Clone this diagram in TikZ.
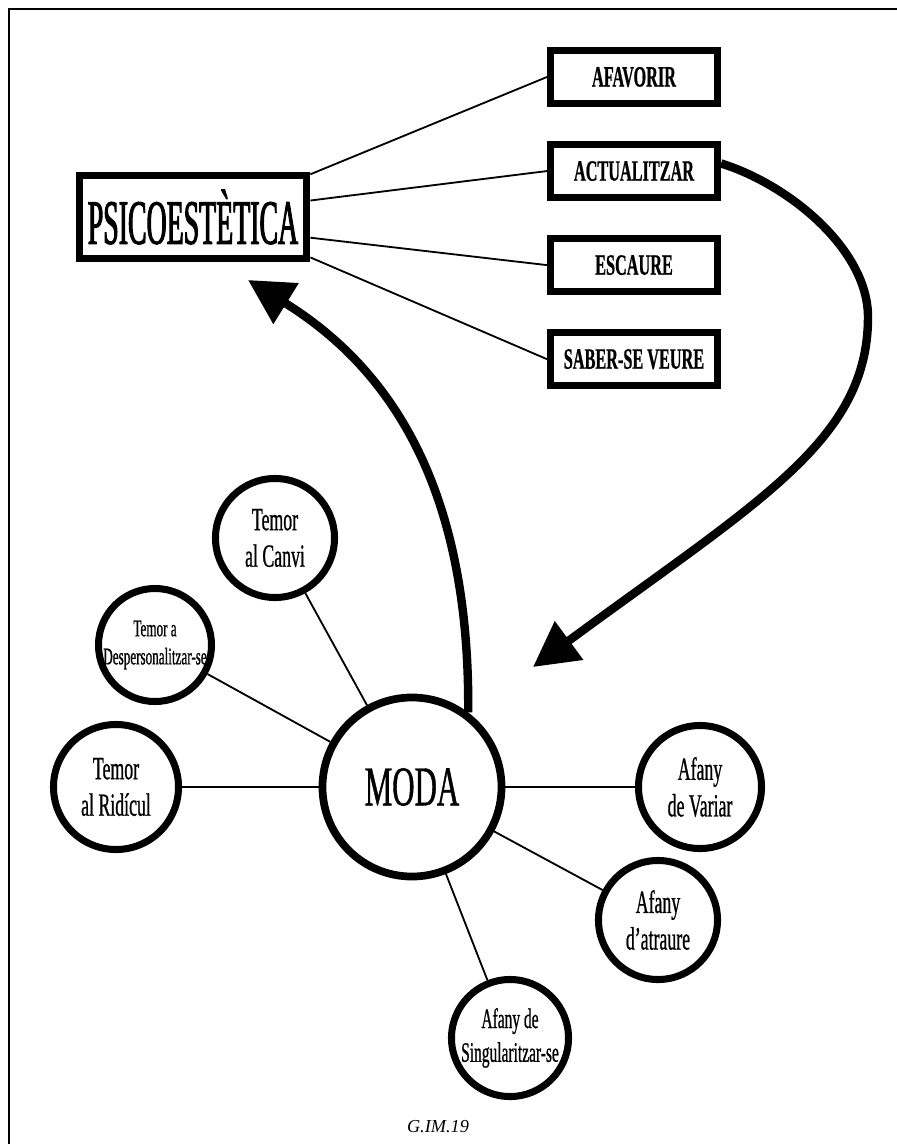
\documentclass[tikz,border=0pt]{standalone}
\usepackage{fontspec}
\setmainfont{Liberation Serif}
\newfontfamily\narrowfont[FakeStretch=0.55, FakeBold=0.7]{Liberation Serif}
\newfontfamily\xnarrowfont[FakeStretch=0.44, FakeBold=1.5]{Liberation Serif}
\usepackage{tikz}
\usetikzlibrary{positioning,arrows.meta}

\begin{document}
\begin{tikzpicture}[
  x=0.025cm, y=-0.025cm,
  box/.style={rectangle, draw, line width=5pt, minimum width=4.175cm, minimum height=1.325cm, inner sep=0pt, font=\narrowfont\bfseries\fontsize{21pt}{24pt}\selectfont},
  bigbox/.style={rectangle, draw, line width=5.5pt, minimum width=5.675cm, minimum height=2.075cm, inner sep=0pt, font=\xnarrowfont\fontsize{45pt}{50pt}\selectfont},
  bubble/.style={circle, draw, line width=5pt, inner sep=-12pt, align=center, font=\narrowfont\fontsize{23pt}{26pt}\selectfont},
  link/.style={line width=1.3pt},
  flow/.style={line width=6pt, -{Triangle[length=1.12cm, width=1.15cm]}},
]
\useasboundingbox (0,0) rectangle (896,1144);

% === Frame ===
\draw[line width=2pt] (9,1150) -- (9,9) -- (900,9);

% === Top: PSICOESTETICA and its four boxes ===
\node[bigbox] (psico) at (193,217) {PSICOESTÈTICA};
\node[box] (afav) at (634,77) {AFAVORIR};
\node[box, below=0.85cm of afav] (actu) {ACTUALITZAR};
\node[box, below=0.85cm of actu] (esca) {ESCAURE};
\node[box, below=0.85cm of esca] (saber) {SABER-SE VEURE};

\draw[link] (psico.20) -- (afav.west);
\draw[link] (psico.8) -- (actu.west);
\draw[link] (psico.-10) -- (esca.west);
\draw[link] (psico.-19) -- (saber.west);

% === Bottom: MODA and the bubbles round it ===
\node[bubble, line width=5.5pt, minimum size=4.475cm, font=\narrowfont\fontsize{40pt}{44pt}\selectfont] (moda) at (412,787) {MODA};
\node[bubble, minimum size=3.125cm] (ridicul) at (116,787) {Temor\\al Ridícul};
\node[bubble, minimum size=2.825cm, font=\narrowfont\fontsize{17pt}{20pt}\selectfont] (desp) at (155,645) {Temor a\\Despersonalitzar-se};
\node[bubble, minimum size=2.975cm] (canvi) at (275,538) {Temor\\al Canvi};
\node[bubble, minimum size=3.075cm] (variar) at (700,787) {Afany\\de Variar};
\node[bubble, minimum size=2.975cm] (atraure) at (658,920) {Afany\\d’atraure};
\node[bubble, minimum size=2.925cm, font=\narrowfont\fontsize{20pt}{24pt}\selectfont] (singul) at (510,1038) {Afany de\\Singularitzar-se};

\draw[link] (ridicul) -- (moda);
\draw[link] (desp) -- (moda);
\draw[link] (canvi) -- (moda);
\draw[link] (moda) -- (variar);
\draw[link] (moda) -- (atraure);
\draw[link] (moda) -- (singul);

% === Big arrows ===
\coordinate (psicotip) at (248,280);
\coordinate (bend) at (868,317);
\coordinate (modatip) at (533,667);
\draw[flow] (moda.53) .. controls (470,480) and (385,365) .. (psicotip);
\draw[flow] (actu.5) .. controls (790,185) and (868,250) .. (bend)
  .. controls (868,440) and (760,500) .. (modatip);

% caption
\node[font=\itshape\fontsize{13pt}{15pt}\selectfont] (caption) at (438,1127) {G.IM.19};
\end{tikzpicture}
\end{document}
